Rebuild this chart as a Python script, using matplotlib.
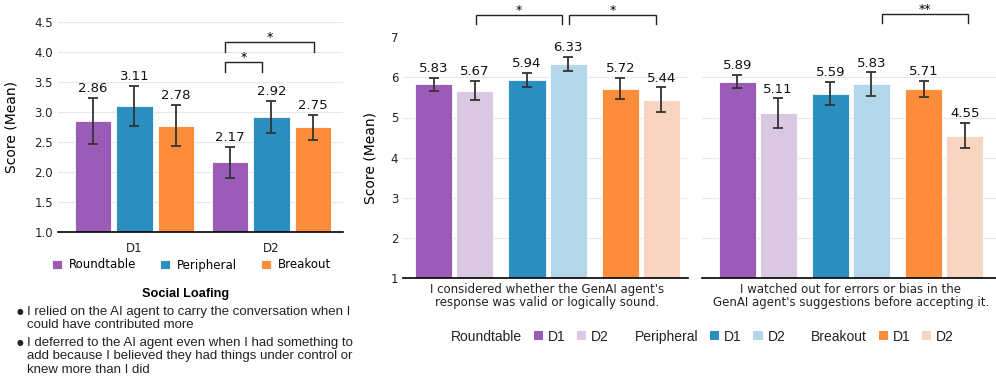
import matplotlib
matplotlib.use('Agg')
import matplotlib.pyplot as plt
from matplotlib.patches import Patch
import numpy as np

W, H = 996, 383

# ---------------- data ----------------
conditions = ['Roundtable', 'Peripheral', 'Breakout']
sessions = ['D1', 'D2']

# Social loafing (left chart): per condition, values for D1, D2
sl_roundtable = [2.86, 2.17]
sl_peripheral = [3.11, 2.92]
sl_breakout = [2.78, 2.75]
sl_roundtable_err = [0.38, 0.26]
sl_peripheral_err = [0.33, 0.27]
sl_breakout_err = [0.34, 0.21]

# "valid or logically sound" (middle chart): per condition, D1 and D2
valid_d1 = [5.83, 5.94, 5.72]
valid_d2 = [5.67, 6.33, 5.44]
valid_d1_err = [0.16, 0.17, 0.26]
valid_d2_err = [0.235, 0.17, 0.31]

# "errors or bias" (right chart)
bias_d1 = [5.89, 5.59, 5.71]
bias_d2 = [5.11, 5.83, 4.55]
bias_d1_err = [0.165, 0.29, 0.20]
bias_d2_err = [0.365, 0.29, 0.32]

valid_label = "I considered whether the GenAI agent's\nresponse was valid or logically sound."
bias_label = "I watched out for errors or bias in the\nGenAI agent's suggestions before accepting it."

sl_title = 'Social Loafing'
sl_items = [
    ['I relied on the AI agent to carry the conversation when I',
     'could have contributed more'],
    ['I deferred to the AI agent even when I had something to',
     'add because I believed they had things under control or',
     'knew more than I did'],
]

# ---------------- style ----------------
dark = {'Roundtable': '#9b5cb7', 'Peripheral': '#2a8ec0', 'Breakout': '#fd8d3b'}
light = {'Roundtable': '#dac8e3', 'Peripheral': '#b3d7e9', 'Breakout': '#f8d5c0'}
ecol = '#333333'
gridc = '#e8e8e8'

plt.rcParams['font.family'] = ['DejaVu Sans']

fig = plt.figure(figsize=(W / 100, H / 100), dpi=100)


def rect(x0, x1, ytop, ybot):
    return [x0 / W, 1 - ybot / H, (x1 - x0) / W, (ybot - ytop) / H]


def style_axes(ax):
    for s in ['top', 'right', 'left']:
        ax.spines[s].set_visible(False)
    ax.spines['bottom'].set_color('black')
    ax.spines['bottom'].set_linewidth(1.2)
    ax.tick_params(length=0, labelsize=8.5, colors='#222222')
    ax.set_axisbelow(True)


def bracket(ax, x1, x2, y, h, label, fs=9):
    ax.plot([x1, x1, x2, x2], [y - h, y, y, y - h], color='#222222', lw=1.0,
            clip_on=False, solid_joinstyle='miter')
    ax.annotate(label, ((x1 + x2) / 2, y), xytext=(0, -1.5), textcoords='offset points',
                ha='center', va='bottom', fontsize=fs, annotation_clip=False)


err_kw = dict(ecolor=ecol, elinewidth=1.3, capthick=1.3)

# ---------------- left chart ----------------
axL = fig.add_axes(rect(58, 343, 22.3, 232.3))
style_axes(axL)
gx = np.arange(len(sessions))
step_l, width_l = 0.303, 0.266
sl_vals = [sl_roundtable, sl_peripheral, sl_breakout]
sl_errs = [sl_roundtable_err, sl_peripheral_err, sl_breakout_err]
for i, cond in enumerate(conditions):
    xs = gx + (i - 1) * step_l
    axL.bar(xs, sl_vals[i], width_l, yerr=sl_errs[i], capsize=3.6, color=dark[cond],
            edgecolor='white', linewidth=0.6, error_kw=err_kw, label=cond, zorder=2)
    for x, v, e in zip(xs, sl_vals[i], sl_errs[i]):
        axL.annotate(f'{v:.2f}', (x, v + e), xytext=(0, 2), textcoords='offset points',
                     ha='center', va='bottom', fontsize=9.5, color='#111111')
axL.set_ylim(1.0, 4.5)
axL.set_yticks(np.arange(1.0, 4.51, 0.5))
axL.set_yticklabels([f'{t:.1f}' for t in np.arange(1.0, 4.51, 0.5)])
axL.set_xlim(-0.558, 1.522)
axL.set_xticks(gx)
axL.set_xticklabels(sessions, fontsize=8.5)
axL.tick_params(axis='x', pad=7)
axL.grid(axis='y', color=gridc, lw=0.9)
axL.set_ylabel('Score (Mean)', fontsize=10)
axL.yaxis.set_label_coords((18.3 - 58) / 285, 0.5)

# significance brackets (D2 group)
d2 = gx[1]
bracket(axL, d2 - step_l - 0.033, d2 - 0.068, 3.84, 0.17, '*')
bracket(axL, d2 - step_l - 0.033, d2 + step_l + 0.007, 4.18, 0.17, '*')

fig.legend(handles=[Patch(facecolor=dark[c], edgecolor='white', lw=0.6) for c in conditions],
           labels=conditions, loc='center', bbox_to_anchor=(191.5 / W, 1 - 265 / H),
           ncol=3, frameon=False, fontsize=8.5, handlelength=0.85, handleheight=0.85,
           handletextpad=0.6, columnspacing=2.0)

# social loafing text
txt_font = ['Liberation Sans', 'DejaVu Sans']
fig.text(185.5 / W, 1 - 294 / H, sl_title, ha='center', va='center', fontsize=9.2,
         fontweight='bold', family=txt_font)
line_y = [[311.7, 325.2], [342.7, 356.4, 370.0]]
for item, ys in zip(sl_items, line_y):
    fig.text(19.5 / W, 1 - (ys[0] - 0.5) / H, '\u25cf', ha='center', va='center', fontsize=5.5,
             family=['DejaVu Sans'], color='#222222')
    for line, y in zip(item, ys):
        fig.text(27 / W, 1 - y / H, line, ha='left', va='center', fontsize=9.5,
                 family=txt_font, color='#222222')

# ---------------- middle & right charts ----------------
px = np.arange(len(conditions))
off, width_r = 0.22, 0.397


def pair_chart(ax, d1, d2v, e1, e2, label, xlim):
    style_axes(ax)
    for i, cond in enumerate(conditions):
        for x, v, e, col in [(px[i] - off, d1[i], e1[i], dark[cond]),
                             (px[i] + off, d2v[i], e2[i], light[cond])]:
            ax.bar(x, v, width_r, yerr=e, capsize=3.6, color=col, edgecolor='white',
                   linewidth=0.6, error_kw=err_kw, zorder=2)
            ax.annotate(f'{v:.2f}', (x, v + e), xytext=(0, 2), textcoords='offset points',
                        ha='center', va='bottom', fontsize=9.5, color='#111111')
    ax.set_ylim(1, 7)
    ax.set_yticks(range(1, 8))
    for t in range(2, 7):
        ax.axhline(t, color=gridc, lw=0.9, zorder=0)
    ax.set_xlim(*xlim)
    ax.set_xticks([px[1]])
    ax.set_xticklabels([label], fontsize=8.5, linespacing=1.0)
    ax.tick_params(axis='x', pad=3.5)


axM = fig.add_axes(rect(403, 688, 37.1, 278.3))
pair_chart(axM, valid_d1, valid_d2, valid_d1_err, valid_d2_err, valid_label, (-0.549, 2.506))
axM.set_ylabel('Score (Mean)', fontsize=10)
axM.yaxis.set_label_coords((378 - 403) / 285, 0.5)
bracket(axM, px[0] + off + 0.01, px[1] + off - 0.06, 7.55, 0.22, '*')
bracket(axM, px[1] + off + 0.01, px[2] + off - 0.06, 7.55, 0.22, '*')

axR = fig.add_axes(rect(702, 996, 37.1, 278.3))
pair_chart(axR, bias_d1, bias_d2, bias_d1_err, bias_d2_err, bias_label, (-0.597, 2.555))
axR.set_yticklabels([])
bracket(axR, px[1] + off + 0.11, px[2] + off + 0.04, 7.57, 0.22, '**')

# bottom legend: group names followed by D1 / D2 swatches
handles, labels = [], []
for cond in conditions:
    handles += [Patch(facecolor='none', edgecolor='none'),
                Patch(facecolor=dark[cond], edgecolor='none'),
                Patch(facecolor=light[cond], edgecolor='none')]
    labels += [cond] + sessions
fig.legend(handles=handles, labels=labels, loc='center',
           bbox_to_anchor=(695.5 / W, 1 - 336.7 / H), ncol=9, frameon=False,
           prop={'family': txt_font, 'size': 10}, handlelength=0.65, handleheight=0.65,
           handletextpad=0.36, columnspacing=0.84, labelcolor='#222222')

fig.savefig('out.png', dpi=100)
